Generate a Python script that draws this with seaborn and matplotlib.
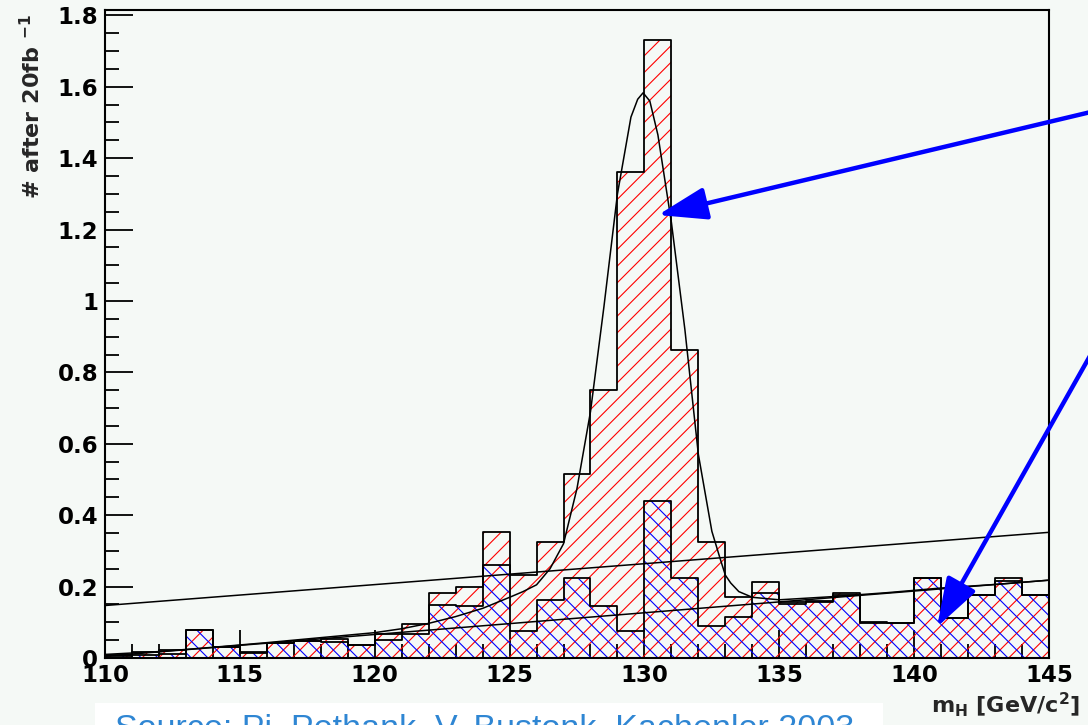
import numpy as np
import pandas as pd
import seaborn as sns
import matplotlib.pyplot as plt
from matplotlib.patches import Rectangle
from matplotlib.ticker import MultipleLocator, FuncFormatter

# 1 GeV bins from 110 to 145
mass_range = (110, 145)
mass_centres = np.arange(110, 145) + 0.5

# signal + background (red, "/" hatch)
signal_plus_bkg = [0.008, 0.016, 0.022, 0.078, 0.030, 0.016, 0.041, 0.048, 0.053, 0.037,
                   0.068, 0.094, 0.183, 0.200, 0.352, 0.232, 0.325, 0.515, 0.751, 1.362,
                   1.731, 0.863, 0.325, 0.172, 0.212, 0.157, 0.160, 0.183, 0.102, 0.099,
                   0.223, 0.113, 0.176, 0.224, 0.176]

# background only (blue, "\" hatch)
background = [0.005, 0.008, 0.010, 0.078, 0.030, 0.015, 0.041, 0.048, 0.046, 0.036,
              0.050, 0.067, 0.148, 0.146, 0.260, 0.077, 0.162, 0.223, 0.146, 0.075,
              0.441, 0.223, 0.090, 0.116, 0.181, 0.152, 0.156, 0.176, 0.099, 0.097,
              0.223, 0.113, 0.176, 0.215, 0.176]

# fitted curve
fit_mass = [110, 112, 114, 116, 118, 120, 121, 122, 123, 124, 125, 125.5, 126, 126.5,
            127, 127.5, 128, 128.5, 129, 129.5, 129.75, 129.95, 130.2, 130.5, 131, 131.5,
            132, 132.5, 132.8, 133, 133.2, 133.5, 134, 135, 137, 139, 141, 143, 145]
fit_value = [0.010, 0.018, 0.030, 0.043, 0.057, 0.071, 0.082, 0.097, 0.116, 0.139, 0.170,
             0.186, 0.205, 0.250, 0.320, 0.475, 0.690, 0.985, 1.300, 1.515, 1.565, 1.583,
             1.560, 1.465, 1.220, 0.920, 0.570, 0.355, 0.280, 0.232, 0.210, 0.186, 0.170,
             0.163, 0.172, 0.183, 0.196, 0.206, 0.218]

# straight lines
upper_line_mass = [110, 145]
upper_line_value = [0.147, 0.352]
lower_line_mass = [110, 145]
lower_line_value = [0.005, 0.218]

y_title = r"# after 20fb $^{-1}$"
x_title = r"m$_{H}$ [GeV/c$^{2}$]"
source_text = "Source: Pi. Pethank, V. Bustonk, Kachenler 2003"

sns.set_style("ticks")
plt.rcParams["font.family"] = ["DejaVu Sans"]
plt.rcParams["font.weight"] = "bold"
plt.rcParams["mathtext.default"] = "regular"
plt.rcParams["hatch.linewidth"] = 0.8
plt.rcParams["axes.edgecolor"] = "black"

bg_colour = "#f5f9f6"
W, H = 1088, 725
fig = plt.figure(figsize=(W / 100, H / 100), dpi=100, facecolor=bg_colour)
ax = fig.add_axes([105 / W, 67 / H, 944 / W, 648 / H])
ax.set_facecolor(bg_colour)

df = pd.DataFrame({"mass": mass_centres, "total": signal_plus_bkg, "bkg": background})
hist_kw = dict(data=df, x="mass", binwidth=1, binrange=mass_range, element="step", ax=ax)

# hatched fills
sns.histplot(weights="total", fill=True, color="red", facecolor="none", edgecolor="red",
             linewidth=0, hatch="//", alpha=1, **hist_kw)
sns.histplot(weights="bkg", fill=True, color="blue", facecolor="none", edgecolor="blue",
             linewidth=0, hatch="\\\\", alpha=1, **hist_kw)
# black outlines
for col in ["total", "bkg"]:
    sns.histplot(weights=col, fill=False, color="black", linewidth=1.3, **hist_kw)

sns.lineplot(x=fit_mass, y=fit_value, color="black", linewidth=1.1, sort=False, ax=ax)
sns.lineplot(x=upper_line_mass, y=upper_line_value, color="black", linewidth=1.1, ax=ax)
sns.lineplot(x=lower_line_mass, y=lower_line_value, color="black", linewidth=1.1, ax=ax)

ax.set_xlim(*mass_range)
ax.set_ylim(0, 1.815)
ax.set_xlabel("")
ax.set_ylabel("")
ax.xaxis.set_major_locator(MultipleLocator(5))
ax.xaxis.set_minor_locator(MultipleLocator(1))
ax.yaxis.set_major_locator(MultipleLocator(0.2))
ax.yaxis.set_minor_locator(MultipleLocator(0.05))
ax.yaxis.set_major_formatter(FuncFormatter(lambda v, p: f"{v:g}"))
ax.tick_params(which="both", direction="in", top=False, right=False, width=1.3,
               colors="black", labelsize=16.5)
ax.tick_params(which="major", length=20)
ax.tick_params(which="minor", length=10)
ax.tick_params(axis="y", pad=5)
ax.tick_params(axis="x", pad=4)
for s in ax.spines.values():
    s.set_linewidth(1.5)
    s.set_color("black")

fig.text(32 / W, 1 - 14 / H, y_title, rotation=90, ha="center", va="top",
         fontsize=16, fontweight="bold")
fig.text(1080 / W, 12 / H, x_title, ha="right", va="baseline",
         fontsize=16, fontweight="bold")

# arrows (figure pixels, origin bottom-left)
arrow_kw = dict(arrowstyle="-|>,head_length=3.0,head_width=1.0", color="blue",
                lw=3.2, shrinkA=0, shrinkB=0, mutation_scale=10)
ax.annotate("", xy=(658, H - 215), xytext=(1095, H - 111), xycoords="figure pixels",
            textcoords="figure pixels", arrowprops=arrow_kw, annotation_clip=False)
ax.annotate("", xy=(937, H - 627), xytext=(1095, H - 347), xycoords="figure pixels",
            textcoords="figure pixels", arrowprops=arrow_kw, annotation_clip=False)

# source caption, cut off by the bottom edge
fig.add_artist(Rectangle((95 / W, 0), (883 - 95) / W, 22 / H, transform=fig.transFigure,
                         facecolor="white", edgecolor="none"))
fig.text(115 / W, -12 / H, source_text, ha="left", va="baseline", fontsize=24.5,
         fontweight="normal", color="#2f86d3", family="Liberation Sans")

fig.savefig("out.png", dpi=100, facecolor=bg_colour)
